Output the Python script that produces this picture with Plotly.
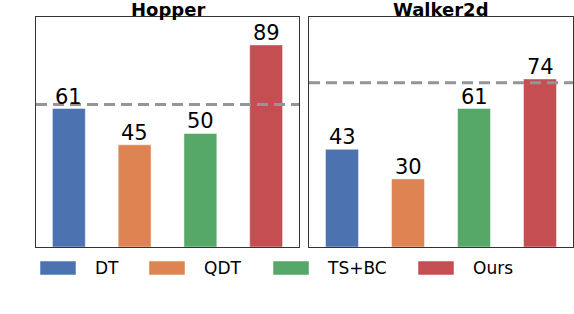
import plotly.graph_objects as go

methods = ["DT", "QDT", "TS+BC", "Ours"]
colors = ["#4C72B0", "#DD8452", "#55A868", "#C44E52"]
tasks = ["Hopper", "Walker2d"]
hopper_scores = [61, 45, 50, 89]
walker_scores = [43, 30, 61, 74]
baselines = [62.8, 72.3]
y_max = 101.3

fig = go.Figure()
font_family = "DejaVu Sans"
domains = [[36 / 574, 299 / 574], [309 / 574, 573 / 574]]
y_dom = [1 - 247 / 314, 1 - 17 / 314]

for i, (task, scores) in enumerate(zip(tasks, [hopper_scores, walker_scores])):
    xa = "x" if i == 0 else "x2"
    ya = "y" if i == 0 else "y2"
    xs = list(range(len(methods)))
    fig.add_trace(go.Bar(
        x=xs, y=scores, width=0.5,
        marker=dict(color=colors, line=dict(color="rgba(255,255,255,0.45)", width=1)),
        cliponaxis=False,
        xaxis=xa, yaxis=ya, showlegend=False, hoverinfo="skip",
    ))
    for xv, v in zip(xs, scores):
        fig.add_annotation(text=str(v), x=xv, y=v, xref=xa, yref=ya,
                           xanchor="center", yanchor="bottom", yshift=-2,
                           showarrow=False,
                           font=dict(size=21, color="black", family=font_family))
    fig.add_shape(type="line", xref=f"{xa} domain", yref=ya,
                  x0=0, x1=1, y0=baselines[i], y1=baselines[i],
                  line=dict(color="#959595", width=3, dash="11px,6px"))
    fig.add_annotation(text=f"<b>{task}</b>", xref="paper", yref="paper",
                       x=(domains[i][0] + domains[i][1]) / 2, y=y_dom[1],
                       xanchor="center", yanchor="bottom", yshift=-5, showarrow=False,
                       font=dict(size=18, color="black", family=font_family))

axis_common = dict(showgrid=False, zeroline=False, showticklabels=False, ticks="",
                   showline=True, linecolor="#333333", linewidth=1.3, mirror=True)
fig.update_layout(
    width=574, height=314,
    margin=dict(l=0, r=0, t=0, b=0),
    paper_bgcolor="white", plot_bgcolor="white",
    xaxis=dict(domain=domains[0], range=[-0.5, 3.5], **axis_common),
    xaxis2=dict(domain=domains[1], range=[-0.5, 3.5], **axis_common),
    yaxis=dict(domain=y_dom, range=[0, y_max], anchor="x", **axis_common),
    yaxis2=dict(domain=y_dom, range=[0, y_max], anchor="x2", **axis_common),
    font=dict(family=font_family),
)

# custom legend
sw_x = [40, 149, 273, 418]
txt_x = [93, 202, 325, 471]
for m, c, sx, tx in zip(methods, colors, sw_x, txt_x):
    fig.add_shape(type="rect", xref="paper", yref="paper",
                  x0=sx / 574, x1=(sx + 36) / 574, y0=1 - 275 / 314, y1=1 - 261 / 314,
                  fillcolor=c, line=dict(color="rgba(255,255,255,0.5)", width=1))
    fig.add_annotation(text=m, xref="paper", yref="paper", x=tx / 574, y=1 - 268 / 314,
                       xanchor="left", yanchor="middle", showarrow=False,
                       font=dict(size=17, color="black", family=font_family))

fig.write_html(
    "out.html",
    config={"displayModeBar": False},
    post_script="document.body.style.margin='0';document.body.style.overflow='hidden';",
)
